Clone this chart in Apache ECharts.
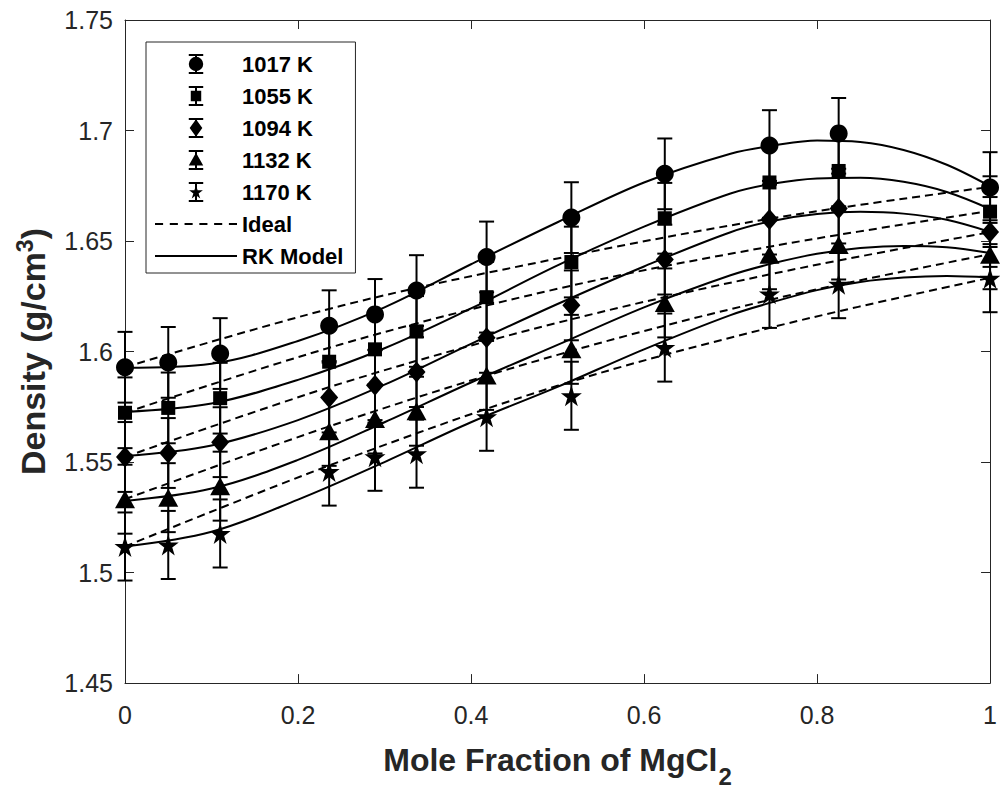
<!DOCTYPE html>
<html>
<head>
<meta charset="utf-8">
<script src="https://cdn.jsdelivr.net/npm/echarts@6/dist/echarts.min.js"></script>
<style>html,body{margin:0;padding:0;background:#fff;}#chart{width:1000px;height:793px;}</style>
</head>
<body>
<div id="chart"></div>
<script>
// ---- data ----
const temperatures = ['1017 K', '1055 K', '1094 K', '1132 K', '1170 K'];
const xData = [0, 0.05, 0.11, 0.236, 0.289, 0.337, 0.418, 0.516, 0.624, 0.745, 0.825, 1];
const d1017 = [1.5929, 1.5951, 1.5991, 1.6117, 1.6168, 1.6276, 1.6428, 1.6606, 1.6804, 1.6932, 1.6987, 1.6742];
const d1055 = [1.5723, 1.5745, 1.5789, 1.5954, 1.6010, 1.6091, 1.6246, 1.6405, 1.6603, 1.6765, 1.6817, 1.6633];
const d1094 = [1.5523, 1.5541, 1.5590, 1.5792, 1.5848, 1.5907, 1.6062, 1.6209, 1.6416, 1.6597, 1.6647, 1.6541];
const d1132 = [1.5332, 1.5339, 1.5391, 1.5639, 1.5695, 1.5730, 1.5892, 1.6010, 1.6220, 1.6438, 1.6482, 1.6438];
const d1170 = [1.5118, 1.5125, 1.5177, 1.5457, 1.5524, 1.5538, 1.5705, 1.5800, 1.6018, 1.6261, 1.6305, 1.6332];
const errors = [0.0160, 0.0160, 0.0158, 0.0156, 0.0154];

// RK model curves
const modelX = [0, 0.1, 0.2, 0.3, 0.4, 0.5, 0.6, 0.7, 0.75, 0.8, 0.85, 0.9, 0.95, 1];
const rk1017 = [1.5927, 1.5945, 1.6048, 1.6200, 1.6395, 1.6585, 1.6765, 1.6895, 1.6932, 1.6955, 1.6948, 1.6912, 1.6845, 1.6748];
const rk1055 = [1.5727, 1.5765, 1.5872, 1.6015, 1.6195, 1.6390, 1.6565, 1.6715, 1.6760, 1.6783, 1.6786, 1.6768, 1.6722, 1.6645];
const rk1094 = [1.5527, 1.5575, 1.5690, 1.5850, 1.6035, 1.6215, 1.6385, 1.6540, 1.6592, 1.6622, 1.6632, 1.6624, 1.6596, 1.6541];
const rk1132 = [1.5324, 1.5380, 1.5510, 1.5680, 1.5860, 1.6030, 1.6200, 1.6345, 1.6400, 1.6442, 1.6468, 1.6478, 1.6472, 1.6446];
const rk1170 = [1.5118, 1.5185, 1.5330, 1.5500, 1.5680, 1.5840, 1.6010, 1.6165, 1.6225, 1.6278, 1.6315, 1.6335, 1.6342, 1.6335];

// Ideal-mixing curves
const idealX = [0, 0.25, 0.5, 0.75, 1];
const ideal1017 = [1.5929, 1.6207, 1.6421, 1.6604, 1.6745];
const ideal1055 = [1.5723, 1.6033, 1.6284, 1.6478, 1.6636];
const ideal1094 = [1.5523, 1.5856, 1.6130, 1.6353, 1.6540];
const ideal1132 = [1.5332, 1.5680, 1.5985, 1.6238, 1.6440];
const ideal1170 = [1.5118, 1.5505, 1.5845, 1.6112, 1.6334];

const xTicks = { min: 0, max: 1, interval: 0.2 };
const yTicks = { min: 1.45, max: 1.75, interval: 0.05 };

// ---- styling ----
const FONT = 'Liberation Sans, Arial, Helvetica, sans-serif';
const AX = '#262626';
const STAR = 'path://M50 0L61.23 34.55L97.55 34.55L68.16 55.9L79.39 90.45L50 69.1L20.61 90.45L31.84 55.9L2.45 34.55L38.77 34.55Z';
const markers = [
  { symbol: 'circle', size: 18 },
  { symbol: 'rect', size: 14 },
  { symbol: 'diamond', size: [18, 21] },
  { symbol: 'triangle', size: [20, 18] },
  { symbol: STAR, size: 21 }
];
const BAR = 'M0 0H130V18H0Z M0 162H130V180H0Z M56 0H74V180H56Z ';
const legendIcons = [
  'path://' + BAR + 'M0 90A65 65 0 1 1 130 90A65 65 0 1 1 0 90Z',
  'path://' + BAR + 'M18 43H112V137H18Z',
  'path://' + BAR + 'M65 12L122 90L65 168L8 90Z',
  'path://' + BAR + 'M65 24L130 140L0 140Z',
  'path://' + BAR + 'M65 30L79.6 74.9L126.8 74.9L88.6 102.7L103.2 147.6L65 119.8L26.8 147.6L41.4 102.7L3.2 74.9L50.4 74.9Z'
];
const DASH_ICON = 'path://M0 0H8V2H0Z M14.6 0H22.6V2H14.6Z M29.2 0H37.2V2H29.2Z M43.8 0H51.8V2H43.8Z M58.4 0H66.4V2H58.4Z M73 0H81V2H73Z';
const SOLID_ICON = 'path://M0 0H81V2H0Z';

const dataSets = [d1017, d1055, d1094, d1132, d1170];
const rkSets = [rk1017, rk1055, rk1094, rk1132, rk1170];
const idealSets = [ideal1017, ideal1055, ideal1094, ideal1132, ideal1170];

const zip = (xs, ys) => xs.map((x, i) => [x, ys[i]]);

const series = [];
temperatures.forEach((t, k) => {
  series.push({
    name: 'Ideal', type: 'line', data: zip(idealX, idealSets[k]),
    symbol: 'none', showSymbol: false, smooth: 0.35, z: 2, silent: true,
    lineStyle: { color: '#000', width: 2, type: [8, 5] }, itemStyle: { color: '#000' }
  });
  series.push({
    name: 'RK Model', type: 'line', data: zip(modelX, rkSets[k]),
    symbol: 'none', showSymbol: false, smooth: 0.35, z: 2, silent: true,
    lineStyle: { color: '#000', width: 2 }, itemStyle: { color: '#000' }
  });
  series.push({
    name: t + ' error', type: 'custom', z: 3, silent: true,
    data: xData.map((x, i) => [x, dataSets[k][i], errors[k]]),
    renderItem: function (params, api) {
      const x = api.value(0), y = api.value(1), e = api.value(2);
      const top = api.coord([x, y + e]);
      const bot = api.coord([x, y - e]);
      const hw = 7.5;
      const st = { stroke: '#000', lineWidth: 2 };
      return {
        type: 'group', children: [
          { type: 'line', shape: { x1: top[0], y1: top[1], x2: bot[0], y2: bot[1] }, style: st },
          { type: 'line', shape: { x1: top[0] - hw, y1: top[1], x2: top[0] + hw, y2: top[1] }, style: st },
          { type: 'line', shape: { x1: bot[0] - hw, y1: bot[1], x2: bot[0] + hw, y2: bot[1] }, style: st }
        ]
      };
    }
  });
  series.push({
    name: t, type: 'scatter', data: zip(xData, dataSets[k]),
    symbol: markers[k].symbol, symbolSize: markers[k].size, z: 4,
    itemStyle: { color: '#000', opacity: 1 }
  });
});

const legendData = temperatures.map((t, k) => ({ name: t, icon: legendIcons[k] }))
  .concat([{ name: 'Ideal', icon: DASH_ICON }, { name: 'RK Model', icon: SOLID_ICON }]);

const chart = echarts.init(document.getElementById('chart'), null, { renderer: 'svg' });
chart.setOption({
  animation: false,
  backgroundColor: '#fff',
  color: ['#000'],
  textStyle: { fontFamily: FONT },
  grid: { left: 125, right: 7, top: 20, bottom: 95, containLabel: false },
  legend: {
    data: legendData, orient: 'vertical', left: 146, top: 42,
    padding: [11, 12, 6, 9], itemWidth: 82, itemHeight: 20, itemGap: 10,
    backgroundColor: '#fff', borderColor: AX, borderWidth: 1,
    selectedMode: false,
    itemStyle: { color: '#000', borderWidth: 0 },
    textStyle: { fontFamily: FONT, fontSize: 22, fontWeight: 'bold', color: '#000', lineHeight: 22 }
  },
  xAxis: [{
    type: 'value', position: 'bottom', min: xTicks.min, max: xTicks.max, interval: xTicks.interval,
    axisLine: { show: true, onZero: false, lineStyle: { color: AX, width: 1 } },
    axisTick: { show: true, inside: true, length: 9, lineStyle: { color: AX } },
    splitLine: { show: false },
    axisLabel: { fontSize: 25, color: AX, margin: 19, fontFamily: FONT },
    name: '{a|Mole Fraction of MgCl}{s|2}', nameLocation: 'middle', nameGap: 48,
    nameTextStyle: {
      rich: {
        a: { fontSize: 32, fontWeight: 'bold', color: AX, fontFamily: FONT, lineHeight: 34 },
        s: { fontSize: 24, fontWeight: 'bold', color: AX, fontFamily: FONT, padding: [32, 0, 0, 1], lineHeight: 24 }
      }
    }
  }, {
    type: 'value', position: 'top', min: xTicks.min, max: xTicks.max, interval: xTicks.interval,
    axisLine: { show: true, onZero: false, lineStyle: { color: AX, width: 1 } },
    axisTick: { show: true, inside: true, length: 9, lineStyle: { color: AX } },
    axisLabel: { show: false }, splitLine: { show: false }
  }],
  yAxis: [{
    type: 'value', position: 'left', min: yTicks.min, max: yTicks.max, interval: yTicks.interval,
    axisLine: { show: true, onZero: false, lineStyle: { color: AX, width: 1 } },
    axisTick: { show: true, inside: true, length: 9, lineStyle: { color: AX } },
    splitLine: { show: false },
    axisLabel: { fontSize: 25, color: AX, margin: 12, fontFamily: FONT },
    name: '{a|Density (g/cm}{p|3}{a|)}', nameLocation: 'middle', nameGap: 67, nameRotate: 90,
    nameTextStyle: {
      rich: {
        a: { fontSize: 34, fontWeight: 'bold', color: AX, fontFamily: FONT, lineHeight: 38 },
        p: { fontSize: 23, fontWeight: 'bold', color: AX, fontFamily: FONT, padding: [0, 0, 17, 0], lineHeight: 23 }
      }
    }
  }, {
    type: 'value', position: 'right', min: yTicks.min, max: yTicks.max, interval: yTicks.interval,
    axisLine: { show: true, onZero: false, lineStyle: { color: AX, width: 1 } },
    axisTick: { show: true, inside: true, length: 9, lineStyle: { color: AX } },
    axisLabel: { show: false }, splitLine: { show: false }
  }],
  series: series
});
</script>
</body>
</html>
